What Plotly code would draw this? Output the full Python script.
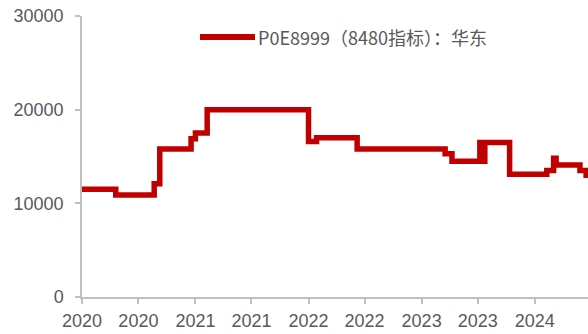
import plotly.graph_objects as go

# POE 8999 (8480 grade) price, East China — change points of a step series
dates = [
    "2020-01-01", "2020-04-19", "2020-08-21", "2020-09-08", "2020-12-18",
    "2021-01-01", "2021-02-08", "2022-01-01", "2022-01-27", "2022-06-07",
    "2023-03-18", "2023-04-09", "2023-07-08", "2023-07-16", "2023-07-24",
    "2023-10-12", "2024-02-09", "2024-03-02", "2024-03-10", "2024-05-26",
    "2024-06-15", "2024-06-30",
]
prices = [
    11500, 10900, 12100, 15800, 16900,
    17500, 20000, 16600, 17000, 15800,
    15300, 14500, 16500, 14500, 16500,
    13100, 13500, 14800, 14100, 13500,
    13000, 13000,
]
series_name = "P0E8999（8480指标）：华东"

y_ticks = [0, 10000, 20000, 30000]

RED = "#C00000"
AXIS = "#BFBFBF"
TEXT = "#595959"

fig = go.Figure()
fig.add_trace(go.Scatter(
    x=dates, y=prices, mode="lines", line_shape="hv",
    line=dict(color=RED, width=5.5), name=series_name, showlegend=False,
))

# legend drawn as a long sample line plus label
fig.add_shape(type="line", xref="paper", yref="paper",
              x0=(200 - 82) / 506, x1=(255 - 82) / 506,
              y0=(297 - 37) / 281, y1=(297 - 37) / 281,
              line=dict(color=RED, width=6))
fig.add_annotation(text=series_name, xref="paper", yref="paper",
                   x=(256 - 82) / 506, y=(297 - 37) / 281,
                   xanchor="left", yanchor="middle", showarrow=False,
                   font=dict(family="Noto Sans CJK SC", size=18, color=TEXT))

fig.update_layout(
    width=588, height=334,
    margin=dict(l=82, r=0, t=16, b=37),
    paper_bgcolor="white", plot_bgcolor="white",
    font=dict(family="Liberation Sans, Arial", size=18, color=TEXT),
    showlegend=False,
)
fig.update_xaxes(
    type="date", range=["2020-01-01", "2024-06-21"],
    tick0="2020-01-01", dtick="M6", tickformat="%Y",
    showgrid=False, zeroline=False,
    showline=True, linecolor=AXIS, linewidth=1.5,
    ticks="outside", ticklen=5, tickcolor=AXIS, tickwidth=1.5,
    ticklabelstandoff=2,
    tickfont=dict(size=18, color=TEXT),
)
fig.update_yaxes(
    range=[0, 30000], tickvals=y_ticks, tickformat="d",
    showgrid=False, zeroline=False,
    showline=True, linecolor=AXIS, linewidth=1.5,
    ticks="outside", ticklen=5, tickcolor=AXIS, tickwidth=1.5,
    ticklabelstandoff=8,
    tickfont=dict(size=18, color=TEXT),
)

fig.write_html("out.html")
